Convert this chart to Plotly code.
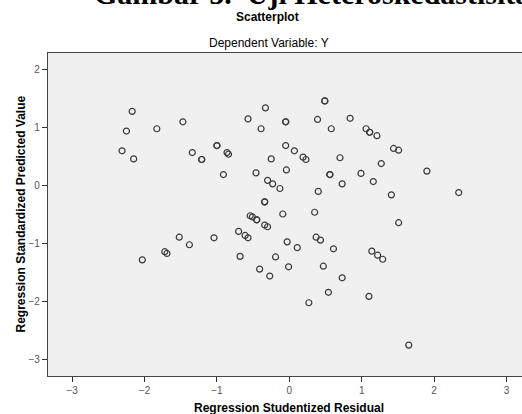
import plotly.graph_objects as go

# Regression Studentized Residual (x) and Regression Standardized Predicted Value (y)
residual = [
    -2.17, -2.25, -2.31, -2.15, -1.83, -1.47, -1.34, -1.21, -1.21, -1.00, -1.00,
    -0.86, -0.84, -0.91, -0.57, -0.33, -0.39, -0.05, -0.05, -0.05, -0.25, -0.04,
    -0.46, -0.30, -0.23, -0.13, -0.34, -0.34, -0.54, -0.09,
    0.49, 0.49, 0.39, 0.84, 0.58, 1.06, 1.11, 1.11, 1.21, 0.07, 0.19, 0.23, 0.70,
    1.44, 1.51, 1.27, 0.56, 0.56, 0.99, 1.90, 0.73, 1.16, 0.40, 1.41, 2.34, 0.35,
    -0.51, -0.45, -0.45, -0.34, -0.30, -1.52, -1.38, -1.72, -1.69, -2.03, -1.04,
    -0.70, -0.61, -0.57, -0.68, -0.41, -0.27, -0.19, -0.03, -0.01,
    1.51, 0.11, 0.37, 0.43, 0.61, 0.47, 0.73, 0.54, 0.27, 1.10, 1.14, 1.22, 1.29, 1.65,
]
predicted = [
    1.27, 0.93, 0.59, 0.45, 0.97, 1.09, 0.56, 0.44, 0.44, 0.68, 0.68,
    0.56, 0.53, 0.18, 1.14, 1.33, 0.97, 1.09, 1.09, 0.68, 0.45, 0.26,
    0.21, 0.08, 0.02, -0.06, -0.29, -0.29, -0.53, -0.50,
    1.45, 1.45, 1.13, 1.15, 0.97, 0.97, 0.91, 0.91, 0.85, 0.59, 0.48, 0.44, 0.47,
    0.63, 0.60, 0.37, 0.18, 0.18, 0.20, 0.24, 0.02, 0.06, -0.11, -0.17, -0.13, -0.47,
    -0.55, -0.60, -0.60, -0.69, -0.72, -0.90, -1.03, -1.15, -1.18, -1.29, -0.91,
    -0.80, -0.87, -0.91, -1.23, -1.45, -1.57, -1.24, -0.98, -1.41,
    -0.65, -1.08, -0.90, -0.95, -1.10, -1.40, -1.60, -1.85, -2.03, -1.92, -1.14, -1.21, -1.28, -2.76,
]
x_ticks = [-3, -2, -1, 0, 1, 2, 3]
y_ticks = [-3, -2, -1, 0, 1, 2]

fig = go.Figure(go.Scatter(
    x=residual, y=predicted, mode="markers",
    marker=dict(symbol="circle-open", size=6, color="#3a3a3a", line=dict(width=1.2)),
    hoverinfo="skip",
))

axis_font = dict(family="Liberation Sans, Arial, sans-serif", size=10, color="#555555")
fig.update_layout(
    width=522, height=414,
    margin=dict(l=48, r=0, t=53, b=38),
    paper_bgcolor="white", plot_bgcolor="#f0f0f0",
    showlegend=False,
    xaxis=dict(range=[-3.333, 3.214], tickvals=x_ticks, ticks="outside", ticklen=5,
               tickcolor="#333333", showline=True, linecolor="#444444", linewidth=1.3,
               mirror=True, showgrid=False, zeroline=False, tickfont=axis_font),
    yaxis=dict(range=[-3.293, 2.276], tickvals=y_ticks, ticks="outside", ticklen=5,
               tickcolor="#333333", showline=True, linecolor="#444444", linewidth=1.3,
               showgrid=False, zeroline=False, tickfont=axis_font),
    annotations=[
        dict(text="<b>Gambar 5.  Uji Heteroskedastisitas</b>", xref="paper", yref="paper",
             x=0.092, y=1.183, xanchor="left", yanchor="middle", showarrow=False,
             font=dict(family="Liberation Serif, Times New Roman, serif", size=30, color="black")),
        dict(text="<b>Scatterplot</b>", xref="paper", yref="paper", x=0.464, y=1.113,
             xanchor="center", yanchor="middle", showarrow=False,
             font=dict(family="Liberation Sans, Arial, sans-serif", size=12, color="black")),
        dict(text="Dependent Variable: Y", xref="paper", yref="paper", x=0.466, y=1.031,
             xanchor="center", yanchor="middle", showarrow=False,
             font=dict(family="Liberation Sans, Arial, sans-serif", size=12, color="black")),
        dict(text="<b>Regression Studentized Residual</b>", xref="paper", yref="paper",
             x=0.508, y=-0.099, xanchor="center", yanchor="middle", showarrow=False,
             font=dict(family="Liberation Sans, Arial, sans-serif", size=12, color="black")),
        dict(text="<b>Regression Standardized Predicted Value</b>", xref="paper", yref="paper",
             x=-0.059, y=0.5, xanchor="center", yanchor="middle", textangle=-90, showarrow=False,
             font=dict(family="Liberation Sans, Arial, sans-serif", size=12, color="black")),
    ],
)

fig.write_html(
    "out.html",
    config={"displayModeBar": False},
    post_script="document.body.style.margin='0';document.body.style.overflow='hidden';",
)
